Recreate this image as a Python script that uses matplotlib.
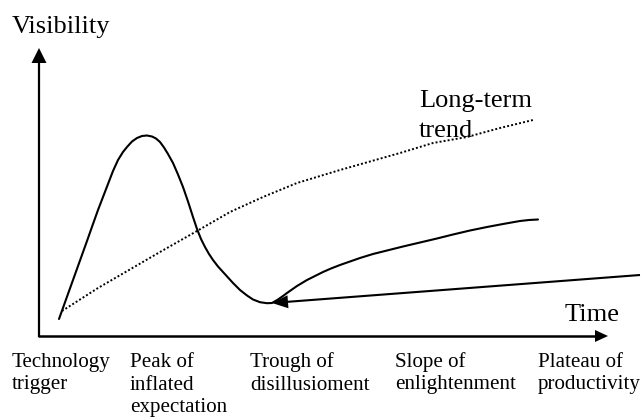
import numpy as np
import matplotlib
matplotlib.use("Agg")
import matplotlib.pyplot as plt

# ---- diagram data (pixel space of a 641x417 canvas, y grows downward) ----
hype_x = [59, 66, 73, 80, 87, 93, 98, 103, 108, 113, 118, 123, 127, 132, 137,
          142, 147, 152, 156, 160, 164, 168, 173, 178, 183, 188, 193, 197, 201,
          205, 209, 213, 218, 223, 228, 233, 240, 247, 253, 260, 267, 272, 278,
          283, 287, 292, 297, 302, 307, 315, 323, 331, 340, 350, 360, 373, 387,
          403, 420, 437, 453, 470, 487, 503, 520, 529, 538]
hype_y = [319, 299.5, 280, 260.5, 241, 224, 210, 197, 184, 171, 160, 152, 147,
          141.5, 138, 136, 135.5, 136.5, 138.5, 142, 147.5, 154, 163, 174.5,
          187, 201.5, 217, 229, 239, 247, 254, 260, 266.5, 272, 277.5, 283, 290,
          295.5, 299.5, 302.2, 303.2, 303, 299.5, 296, 293, 289.5, 286, 283,
          280, 276, 272, 268.5, 265, 261.5, 258, 254, 250.5, 246.5, 242.5,
          238.5, 234.5, 230.5, 227, 224, 221, 220, 219.5]

trend_x = [62, 98, 160, 197, 230, 263, 297, 340, 400, 433, 467, 500, 533]
trend_y = [311, 288, 252, 231, 212, 197, 183, 170, 153, 143, 137, 128, 120]

pointer_x = [640, 272]   # long arrow pointing at the trough
pointer_y = [275, 303]

axis_origin = (39, 336)
y_axis_tip = 48
x_axis_tip = 608

stage_labels = [["Technology", "trigger"],
                ["Peak of", "inflated", "expectation"],
                ["Trough of", "disillusioment"],
                ["Slope of", "enlightenment"],
                ["Plateau of", "productivity"]]
stage_x = [12, 130, 250, 395, 538]
stage_baseline = 367
stage_line_step = 22.5

axis_y_label = "Visibility"
axis_x_label = "Time"
trend_label = ["Long-term", "trend"]

# ---- figure ----
W, H = 641, 417
fig = plt.figure(figsize=(W / 100, H / 100), dpi=100)
ax = fig.add_axes([0, 0, 1, 1])
ax.set_xlim(0, W)
ax.set_ylim(H, 0)
ax.axis("off")

serif = ["Liberation Serif", "DejaVu Serif"]


def arrow(start, tip, length, width, lw):
    s = np.asarray(start, float)
    t = np.asarray(tip, float)
    d = (t - s) / np.hypot(*(t - s))
    n = np.array([-d[1], d[0]])
    base = t - d * length
    shaft_end = t - d * (length - 2)
    ax.plot([s[0], shaft_end[0]], [s[1], shaft_end[1]], color="black", lw=lw,
            solid_capstyle="butt")
    pts = np.array([t, base + n * width / 2, base - n * width / 2])
    ax.fill(pts[:, 0], pts[:, 1], color="black", lw=0, zorder=5)


ox, oy = axis_origin
# axes
arrow((ox, oy + 1), (ox, y_axis_tip), 15, 15, 1.6)
arrow((ox - 1, oy), (x_axis_tip, oy), 13, 12, 1.8)

# hype curve
ax.plot(hype_x, hype_y, color="black", lw=1.5, solid_joinstyle="round",
        solid_capstyle="round")

# long-term trend (dotted)
ax.plot(trend_x, trend_y, color="black", lw=1.4, linestyle=(0, (1, 1.1)))

# pointer arrow to the trough
arrow((pointer_x[0], pointer_y[0]), (pointer_x[1], pointer_y[1]), 16, 13, 1.5)

# texts
fs_big = 19
fs_small = 15.1
ax.text(12, 33, axis_y_label, fontsize=fs_big, family=serif, va="baseline",
        ha="left")
ax.text(565, 321, axis_x_label, fontsize=fs_big, family=serif, va="baseline",
        ha="left")
for i, line in enumerate(trend_label):
    ax.text(419, 107 + 30 * i, line, fontsize=fs_big, family=serif,
            va="baseline", ha="left")
for lines, x in zip(stage_labels, stage_x):
    for i, line in enumerate(lines):
        ax.text(x, stage_baseline + stage_line_step * i, line,
                fontsize=fs_small, family=serif, va="baseline", ha="left")

fig.savefig("out.png", dpi=100)
